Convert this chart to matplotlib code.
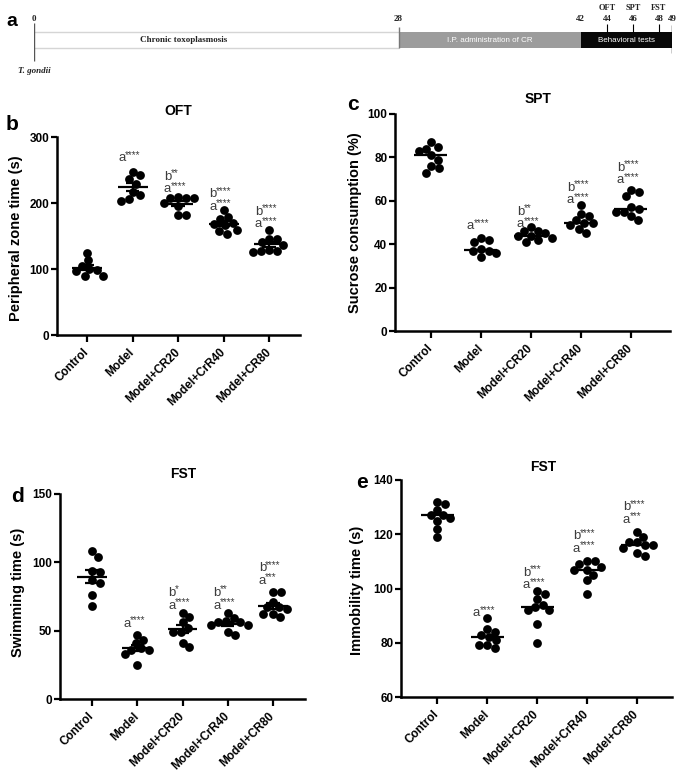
import numpy as np
import matplotlib
matplotlib.use('Agg')
import matplotlib.pyplot as plt

plt.rcParams['font.family'] = ['Liberation Sans', 'DejaVu Sans']

# ---- data ----
groups = ['Control', 'Model', 'Model+CR20', 'Model+CrR40', 'Model+CR80']

oft = [[125, 113, 105, 100, 98, 97, 90, 89],
       [247, 242, 236, 229, 217, 212, 206, 203],
       [209, 208, 208, 207, 200, 196, 182, 182],
       [189, 179, 176, 170, 168, 166, 159, 157, 153],
       [159, 146, 145, 141, 137, 129, 127, 127, 126]]

spt = [[87, 85, 84, 83, 81, 79, 76, 75, 73],
       [43, 42, 41, 38, 37, 37, 36, 34],
       [48, 46, 46, 45, 44, 44, 43, 42, 41],
       [58, 54, 53, 51, 50, 50, 49, 47, 45],
       [65, 64, 62, 57, 56, 55, 55, 53, 51]]

swim = [[108, 104, 94, 93, 87, 85, 76, 68],
        [47, 43, 41, 37, 36, 36, 33, 25],
        [63, 60, 56, 52, 49, 49, 41, 38],
        [63, 59, 57, 56, 56, 54, 54, 49, 47],
        [78, 78, 71, 67, 67, 66, 62, 62, 60]]

immob = [[132, 131, 129, 127, 127, 126, 125, 122, 119],
         [89, 85, 84, 83, 82, 81, 79, 79, 78],
         [99, 98, 96, 94, 93, 92, 92, 87, 80],
         [110, 110, 109, 108, 107, 107, 105, 103, 98],
         [121, 119, 117, 117, 116, 116, 115, 113, 112]]

# significance labels: (group, stacked lines from bottom, baseline of bottom line)
oft_sig = [(1, [('a', '****')], 263), (2, [('a', '****'), ('b', '**')], 216),
           (3, [('a', '****'), ('b', '****')], 190), (4, [('a', '****'), ('b', '****')], 163)]
spt_sig = [(1, [('a', '****')], 46.8), (2, [('a', '****'), ('b', '**')], 47.7),
           (3, [('a', '****'), ('b', '****')], 58.8), (4, [('a', '****'), ('b', '****')], 68.0)]
swim_sig = [(1, [('a', '****')], 53), (2, [('a', '****'), ('b', '*')], 66.2),
            (3, [('a', '****'), ('b', '**')], 66.2), (4, [('a', '***'), ('b', '****')], 84.4)]
immob_sig = [(1, [('a', '****')], 89.7), (2, [('a', '****'), ('b', '***')], 100),
             (3, [('a', '****'), ('b', '****')], 113.6), (4, [('a', '***'), ('b', '****')], 124.3)]

# timeline
phase_start = [0, 28, 42]
phase_end = [28, 42, 49]
phase_names = ['Chronic toxoplasmosis', 'I.P. administration of CR', 'Behavioral tests']
test_days = [44, 46, 48]
test_names = ['OFT', 'SPT', 'FST']
day_marks = [0, 28, 42, 44, 46, 48, 49]

W, H = 681, 772
fig = plt.figure(figsize=(W / 100, H / 100), dpi=100)


def box(l, t, r, b):
    return [l / W, 1 - b / H, (r - l) / W, (b - t) / H]


# ---- panel a: timeline ----
ax0 = fig.add_axes(box(34, 0, 672, 80))
ax0.set_xlim(0, 49)
ax0.set_ylim(80, 0)
ax0.axis('off')
cols = ['white', '#9c9c9c', '#080808']
tcols = ['#222222', 'white', 'white']
for s, e, name, c, tc in zip(phase_start, phase_end, phase_names, cols, tcols):
    ax0.barh(40, e - s, left=s, height=16, color=c, zorder=1)
    if s == 0:
        ax0.hlines([32, 48], s, e, color='#d5d5d5', lw=1)
        ax0.text(11.5, 40.5, name, ha='center', va='center', fontsize=6.5,
                 family='Liberation Serif', weight='bold', color=tc)
    else:
        ax0.text((s + e) / 2, 40.5, name, ha='center', va='center', fontsize=5.8,
                 color=tc)
ax0.vlines(0, 23, 61, color='#555555', lw=1)
ax0.vlines(28, 27, 48, color='#777777', lw=1)
ax0.vlines(49, 25, 53, color='black', lw=1)
ax0.vlines(test_days, 24, 32, color='black', lw=0.8)
for d in day_marks:
    ax0.text(d, 19, str(d), ha='center', va='center', fontsize=6.5,
             family='Liberation Serif', weight='bold', color='#222222', clip_on=False)
for d, n in zip(test_days, test_names):
    ax0.text(d, 8, n, ha='center', va='center', fontsize=6,
             family='Liberation Serif', weight='bold', color='#222222')
ax0.text(0, 71, 'T. gondii', ha='center', va='center', fontsize=6.5,
         family='Liberation Serif', style='italic', weight='bold', color='#222222', clip_on=False)
fig.text(12 / W, 1 - 21 / H, 'a', fontsize=14, weight='bold', ha='center', va='center')


def swarm_x(ax, xc, vals, d):
    pts = ax.transData.transform(np.column_stack([np.full(len(vals), xc), vals]))
    x0 = pts[0, 0]
    ys = pts[:, 1]
    xs = np.zeros(len(vals))
    placed = []
    for k in np.argsort(-ys, kind='stable'):
        y = ys[k]
        cands = [0.0]
        for px, py in placed:
            dy = y - py
            if abs(dy) < d:
                dx = np.sqrt(d * d - dy * dy)
                cands += [px - x0 + dx, px - x0 - dx]
        cands = sorted(cands, key=abs)
        for c in cands:
            if all((c + x0 - px) ** 2 + (y - py) ** 2 >= d * d - 1e-6 for px, py in placed):
                break
        xs[k] = x0 + c
        placed.append((x0 + c, y))
    back = ax.transData.inverted().transform(np.column_stack([xs, ys]))
    return back[:, 0]


def panel(rect, data, xlim, ylim, yticks, stat, sig, letter, lpos, title, tpos, ylabel, ypos):
    ax = fig.add_axes(rect)
    ax.set_xlim(xlim)
    ax.set_ylim(ylim)
    for i, vals in enumerate(data):
        xs = swarm_x(ax, i, vals, 8.0)
        ax.scatter(xs, vals, s=40, color='black', linewidths=0, zorder=3, clip_on=False)
        if stat == 'mean':
            m = np.mean(vals)
            se = np.std(vals, ddof=1) / np.sqrt(len(vals))
            ax.hlines(m, i - 0.33, i + 0.33, color='black', lw=1.6, zorder=4)
            ax.vlines(i, m - se, m + se, color='black', lw=1.6, zorder=4)
            ax.hlines([m - se, m + se], i - 0.15, i + 0.15, color='black', lw=1.6, zorder=4)
        else:
            med = np.median(vals)
            ax.hlines(med, i - 0.33, i + 0.33, color='black', lw=1.6, zorder=4)
    for g, lines, y in sig:
        for j, (let, stars) in enumerate(lines):
            dy = j * 9.0
            ax.annotate(let, (g, y), xytext=(-5, dy), textcoords='offset points',
                        ha='right', va='baseline', fontsize=9.5, color='#3c3c3c')
            ax.annotate(stars, (g, y), xytext=(-5.5, dy + 2.5), textcoords='offset points',
                        ha='left', va='baseline', fontsize=7, color='#3c3c3c')
    for side in ['top', 'right']:
        ax.spines[side].set_visible(False)
    for side in ['left', 'bottom']:
        ax.spines[side].set_linewidth(1.8)
    ax.set_yticks(yticks)
    ax.set_xticks(range(len(groups)))
    ax.set_xticklabels(groups, rotation=45, ha='right', va='center',
                       rotation_mode='anchor', fontsize=8.5, weight='bold')
    ax.tick_params(axis='x', width=1.6, length=5, pad=6)
    ax.tick_params(axis='y', width=1.6, length=4, labelsize=8.5, pad=1.5)
    for t in ax.get_yticklabels():
        t.set_fontweight('bold')
    fig.text(lpos[0] / W, 1 - lpos[1] / H, letter, fontsize=15, weight='bold',
             ha='center', va='center')
    fig.text(tpos[0] / W, 1 - tpos[1] / H, title, fontsize=10, weight='bold',
             ha='center', va='center')
    fig.text(ypos[0] / W, 1 - ypos[1] / H, ylabel, fontsize=10.5, rotation=90,
             weight='bold', ha='center', va='center')
    return ax


panel(box(57, 137, 300, 335), oft, (-0.66, 4.68), (0, 300), [0, 100, 200, 300], 'mean',
      oft_sig, 'b', (12, 125), 'OFT', (178, 111), 'Peripheral zone time (s)', (16, 238))
panel(box(395, 114, 670, 331), spt, (-0.72, 4.78), (0, 100), [0, 20, 40, 60, 80, 100], 'median',
      spt_sig, 'c', (353, 105), 'SPT', (538, 99), 'Sucrose consumption (%)', (355, 223))
panel(box(60, 494, 305, 699), swim, (-0.71, 4.71), (0, 150), [0, 50, 100, 150], 'mean',
      swim_sig, 'd', (18, 497), 'FST', (183, 474), 'Swimming time (s)', (18, 592))
panel(box(401, 480, 672, 697), immob, (-0.72, 4.7), (60, 140), [60, 80, 100, 120, 140], 'median',
      immob_sig, 'e', (362, 482), 'FST', (543, 467), 'Immobility time (s)', (357, 590))

fig.savefig('out.png', dpi=100)
